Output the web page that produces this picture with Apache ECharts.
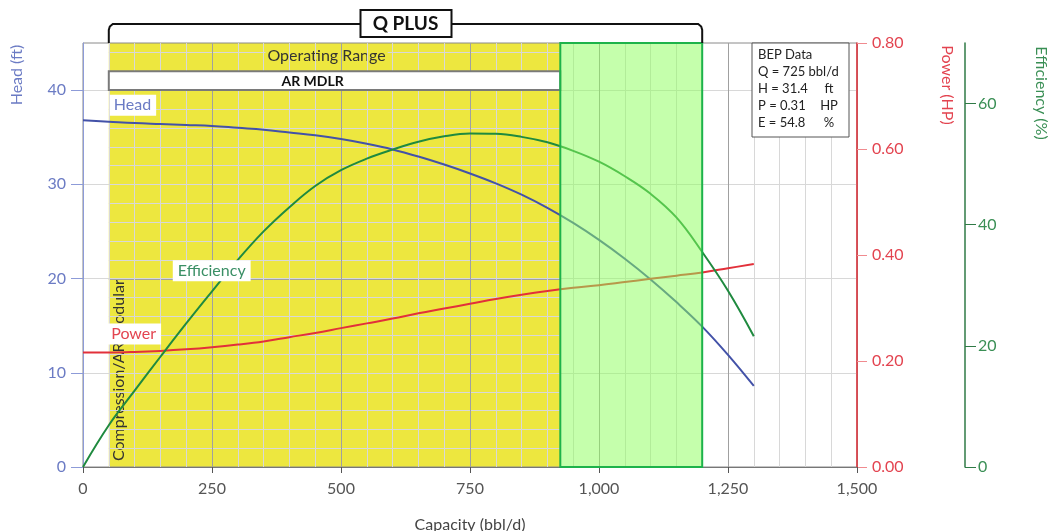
<!DOCTYPE html>
<html><head><meta charset="utf-8">
<script src="https://cdn.jsdelivr.net/npm/echarts@6/dist/echarts.min.js"></script>
<style>html,body{margin:0;padding:0;background:#fff}#c{width:1049px;height:531px}</style>
</head><body><div id="c"></div>
<script>
// ---- data ----
const capacity = [0,50,100,150,200,250,300,350,400,450,500,550,600,650,700,750,800,850,900,950,1000,1050,1100,1150,1200,1250,1300];
const headFt = [36.8,36.65,36.5,36.4,36.3,36.2,36.0,35.8,35.5,35.2,34.8,34.3,33.7,32.95,32.1,31.15,30.1,28.9,27.5,25.9,24.1,22.1,19.9,17.5,14.9,11.9,8.6];
const powerHP = [0.216,0.216,0.217,0.219,0.222,0.226,0.231,0.237,0.245,0.253,0.262,0.271,0.280,0.290,0.299,0.308,0.317,0.325,0.332,0.338,0.343,0.349,0.355,0.361,0.367,0.375,0.383];
const efficiencyPct = [0,6.9,12.6,18.2,23.7,29.0,34.2,38.9,42.9,46.4,49.0,50.9,52.4,53.7,54.6,55.05,55.0,54.5,53.6,52.2,50.4,48.0,45.1,41.2,35.5,29.1,21.6];

const xTicks = [0,250,500,750,1000,1250,1500];
const headTicks = [0,10,20,30,40];
const powerTicks = [0,0.2,0.4,0.6,0.8];
const effTicks = [0,20,40,60];
const headMax = 45, powerMax = 0.8, effMax = 70, xMax = 1500;
const headGridStep = 2, headMajorStep = 10;

const operatingRange = [50, 925];
const qPlusRange = [925, 1200];
const qPlusBracket = [50, 1200];
const arMdlrBand = [40, 42];

const bepQ = 725, bepH = 31.4, bepP = 0.31, bepE = 54.8;

// label anchors (data coords)
const headLabelAt = [52, 38.4];
const effLabelAt = [174, 32.4];
const powerLabelAt = [45, 0.251];

const FONT = 'Lato, "Open Sans", sans-serif';
const cHead = '#4352a8', cHeadAxis = '#8d9bd8', cHeadTxt = '#6b7bc4';
const cPow = '#e2303a', cPowTxt = '#e34450';
const cEff = '#1f8a3f', cEffAxis = '#2f7a46', cEffTxt = '#3a8f55';
const minorC = '#d8d8d8', majorC = '#a0a0a0';
const yellow = '#ede73f';

function rectFrom(api){
  const tl = api.coord([api.value(0), api.value(3)]);
  const br = api.coord([api.value(1), api.value(2)]);
  return {x: tl[0], y: tl[1], width: br[0]-tl[0], height: br[1]-tl[1]};
}

const chart = echarts.init(document.getElementById('c'), null, {renderer:'canvas'});
const option = {
  animation: false,
  textStyle: {fontFamily: FONT},
  grid: {left: 83, right: 192, top: 43, bottom: 64, outerBoundsMode: 'none', containLabel: false, z: 0,
    show: true, borderColor: '#8a8a8a', borderWidth: 1, backgroundColor: 'transparent'},
  xAxis: {
    type: 'value', min: 0, max: xMax, interval: 250, z: 1,
    name: 'Capacity (bbl/d)', nameLocation: 'middle', nameGap: 50,
    nameTextStyle: {color: '#444', fontSize: 16, fontFamily: FONT},
    axisLine: {show: true, lineStyle: {color: '#777', width: 1}},
    axisTick: {show: true, length: 6, lineStyle: {color: '#555'}},
    axisLabel: {color: '#555', fontSize: 16, margin: 14, formatter: v => v.toLocaleString('en-US')},
    splitLine: {show: true, lineStyle: {color: majorC, width: 1}},
    minorTick: {show: false, splitNumber: 5},
    minorSplitLine: {show: true, lineStyle: {color: minorC, width: 1}}
  },
  yAxis: [
    {
      type: 'value', position: 'left', min: 0, max: headMax, interval: headGridStep, z: 1,
      axisLine: {show: true, lineStyle: {color: cHeadAxis, width: 1}},
      axisTick: {show: true, length: 12, customValues: headTicks, lineStyle: {color: cHeadAxis}},
      axisLabel: {color: cHeadTxt, fontSize: 16, margin: 17, customValues: headTicks},
      splitLine: {show: true, lineStyle: {color: [majorC, minorC, minorC, minorC, minorC], width: 1}}
    },
    {
      type: 'value', position: 'right', min: 0, max: powerMax, interval: 0.2, z: 1,
      axisLine: {show: true, lineStyle: {color: cPow, width: 1.5}},
      axisTick: {show: true, length: 10, customValues: powerTicks, lineStyle: {color: '#f08a8f'}},
      axisLabel: {color: cPowTxt, fontSize: 16, margin: 15, customValues: powerTicks, formatter: v => v.toFixed(2)},
      splitLine: {show: false}
    },
    {
      type: 'value', position: 'right', offset: 108, min: 0, max: effMax, interval: 20, z: 1,
      axisLine: {show: true, lineStyle: {color: cEffAxis, width: 1.5}},
      axisTick: {show: true, length: 11, customValues: effTicks, lineStyle: {color: cEffAxis}},
      axisLabel: {color: cEffTxt, fontSize: 16, margin: 13, customValues: effTicks},
      splitLine: {show: false}
    }
  ],
  series: [
    {
      type: 'custom', name: 'Operating Range', z: -5, silent: true,
      xAxisIndex: 0, yAxisIndex: 0, encode: {x: [0,1], y: [2,3]},
      data: [[operatingRange[0], operatingRange[1], 0, headMax]],
      renderItem(params, api){
        const r = rectFrom(api);
        const children = [
          {type: 'rect', shape: r, style: {fill: yellow}},
          {type: 'text', x: r.x + 10, y: r.y + r.height - 6, rotation: Math.PI/2,
            style: {text: 'Compression/AR Modular', fill: '#333', font: '16px ' + FONT, align: 'left', verticalAlign: 'middle'}}
        ];
        // horizontal grid lines of the head axis, kept visible over the band
        for (let v = headGridStep; v < headMax; v += headGridStep) {
          const y = Math.round(api.coord([0, v])[1]) + 0.5;
          children.push({type: 'line', shape: {x1: r.x, y1: y, x2: r.x + r.width, y2: y},
            style: {stroke: (v % headMajorStep === 0) ? majorC : minorC, lineWidth: 1}});
        }
        children.push({type: 'text', x: r.x + r.width/2 - 8, y: r.y + 13,
          style: {text: 'Operating Range', fill: '#333', font: '16px ' + FONT, align: 'center', verticalAlign: 'middle',
            backgroundColor: yellow, padding: [1, 2]}});
        return {type: 'group', children};
      }
    },
    {
      type: 'custom', name: 'AR MDLR', z: 3, silent: true,
      xAxisIndex: 0, yAxisIndex: 0, encode: {x: [0,1], y: [2,3]},
      data: [[operatingRange[0], operatingRange[1], arMdlrBand[0], arMdlrBand[1]]],
      renderItem(params, api){
        const r = rectFrom(api);
        return {type: 'group', children: [
          {type: 'rect', shape: r, style: {fill: '#fff', stroke: '#7a7a7a', lineWidth: 2}},
          {type: 'text', x: r.x + r.width/2 - 22, y: r.y + r.height/2 + 1,
            style: {text: 'AR MDLR', fill: '#111', font: 'bold 14px ' + FONT, align: 'center', verticalAlign: 'middle'}}
        ]};
      }
    },
    {
      type: 'line', name: 'Head', xAxisIndex: 0, yAxisIndex: 0, z: 2,
      data: capacity.map((c,i) => [c, headFt[i]]),
      showSymbol: false, smooth: 0.4, lineStyle: {color: cHead, width: 2}, itemStyle: {color: cHead},
      markPoint: {symbolSize: 0, silent: true, data: [{coord: headLabelAt}],
        label: {show: true, position: 'right', distance: 0, formatter: 'Head', color: cHeadTxt, fontSize: 16, fontFamily: FONT, backgroundColor: '#fff', padding: [3, 5, 2, 4]}}
    },
    {
      type: 'line', name: 'Power', xAxisIndex: 0, yAxisIndex: 1, z: 2,
      data: capacity.map((c,i) => [c, powerHP[i]]),
      showSymbol: false, smooth: 0.4, lineStyle: {color: cPow, width: 2}, itemStyle: {color: cPow},
      markPoint: {symbolSize: 0, silent: true, data: [{coord: powerLabelAt}],
        label: {show: true, position: 'right', distance: 0, formatter: 'Power', color: cPowTxt, fontSize: 16, fontFamily: FONT, backgroundColor: '#fff', padding: [3, 5, 2, 5]}}
    },
    {
      type: 'line', name: 'Efficiency', xAxisIndex: 0, yAxisIndex: 2, z: 2,
      data: capacity.map((c,i) => [c, efficiencyPct[i]]),
      showSymbol: false, smooth: 0.4, lineStyle: {color: cEff, width: 2}, itemStyle: {color: cEff},
      markPoint: {symbolSize: 0, silent: true, data: [{coord: effLabelAt}],
        label: {show: true, position: 'right', distance: 0, formatter: 'Efficiency', color: '#3a8f65', fontSize: 16, fontFamily: FONT, backgroundColor: '#fff', padding: [3, 5, 2, 5]}}
    },
    {
      type: 'custom', name: 'Q PLUS', z: 4, silent: true,
      xAxisIndex: 0, yAxisIndex: 0, encode: {x: [0,1], y: [2,3]},
      data: [[qPlusRange[0], qPlusRange[1], 0, headMax]],
      renderItem(params, api){
        const r = rectFrom(api);
        return {type: 'rect', shape: r, style: {fill: 'rgba(140,255,90,0.5)', stroke: '#1db34a', lineWidth: 2}};
      }
    }
  ],
  graphic: []
};
chart.setOption(option);

// annotations positioned from the axes
const gx0 = chart.convertToPixel({xAxisIndex: 0}, qPlusBracket[0]);
const gx1 = chart.convertToPixel({xAxisIndex: 0}, qPlusBracket[1]);
const gTop = chart.convertToPixel({yAxisIndex: 0}, headMax);
const gRight = chart.convertToPixel({xAxisIndex: 0}, xMax);
const by = gTop - 19;
chart.setOption({graphic: [
  {type: 'polyline', z: 10, silent: true,
    shape: {points: [[gx0, gTop], [gx0, by + 6], [gx0 + 1, by + 2.5], [gx0 + 4, by], [gx1 - 4, by], [gx1 - 1, by + 2.5], [gx1, by + 6], [gx1, gTop]]},
    style: {stroke: '#111', lineWidth: 2, fill: null}},
  {type: 'rect', z: 11, silent: true, shape: {x: (gx0 + gx1)/2 - 45, y: by - 14, width: 91, height: 27},
    style: {fill: '#fff', stroke: '#111', lineWidth: 2}},
  {type: 'text', z: 12, silent: true, x: (gx0 + gx1)/2, y: by,
    style: {text: 'Q PLUS', fill: '#111', font: 'bold 19px ' + FONT, align: 'center', verticalAlign: 'middle'}},
  {type: 'rect', z: 11, silent: true, shape: {x: gRight - 105, y: gTop, width: 97, height: 94},
    style: {fill: '#fff', stroke: '#555', lineWidth: 1}},
  {type: 'text', z: 12, silent: true, x: gRight - 99, y: gTop + 3,
    style: {
      text: [
        '{a|BEP Data}',
        '{a|Q = ' + bepQ + ' bbl/d}',
        '{a|H = ' + bepH.toFixed(1) + '}{b|ft}',
        '{a|P = ' + bepP.toFixed(2) + '}{b|HP}',
        '{a|E = ' + bepE.toFixed(1) + '}{b|%}'
      ].join('\n'),
      verticalAlign: 'top', align: 'left',
      rich: {
        a: {fontSize: 13, fontFamily: FONT, fill: '#222', lineHeight: 17, width: 62},
        b: {fontSize: 13, fontFamily: FONT, fill: '#222', lineHeight: 17, width: 18, align: 'center'}
      }
    }},
  {type: 'text', z: 12, silent: true, x: 17, y: 75, rotation: Math.PI/2,
    style: {text: 'Head (ft)', fill: cHeadTxt, font: '16px ' + FONT, align: 'center', verticalAlign: 'middle'}},
  {type: 'text', z: 12, silent: true, x: 947, y: 85, rotation: -Math.PI/2,
    style: {text: 'Power (HP)', fill: cPowTxt, font: '16px ' + FONT, align: 'center', verticalAlign: 'middle'}},
  {type: 'text', z: 12, silent: true, x: 1041, y: 93, rotation: -Math.PI/2,
    style: {text: 'Efficiency (%)', fill: cEffTxt, font: '16px ' + FONT, align: 'center', verticalAlign: 'middle'}}
]});
</script>
</body></html>
